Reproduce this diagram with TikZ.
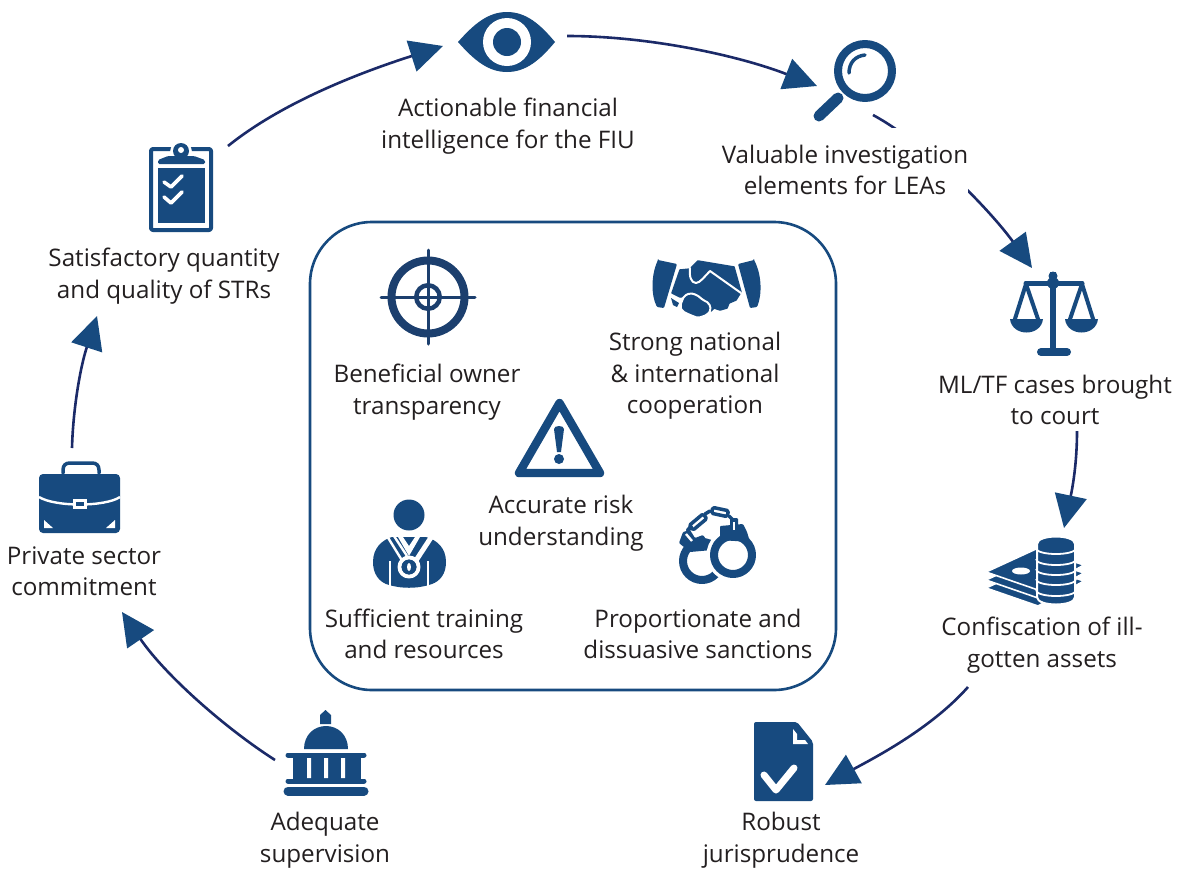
\documentclass[tikz,border=0pt]{standalone}
\usepackage{fontspec}
\setmainfont{Open Sans}
\usetikzlibrary{arrows.meta}
\definecolor{iconblue}{HTML}{174A7F}
\definecolor{linenavy}{HTML}{1B2A68}
\definecolor{targetblue}{HTML}{1C3F6E}
\definecolor{textdark}{HTML}{231F20}
\tikzset{
  x=1pt,y=-1pt,
  label text/.style={align=center,text=textdark,inner sep=0pt,font=\fontsize{24.2}{31.5}\selectfont},
  flow/.style={draw=linenavy,line width=2.6pt,-{Triangle[length=33pt,width=32pt,fill=iconblue,color=iconblue]}},
  icon/.style={fill=iconblue},
  iconline/.style={draw=iconblue,line cap=round,line join=round},
  cut/.style={fill=white},
  cutline/.style={draw=white,line cap=round,line join=round},
}
\begin{document}
\begin{tikzpicture}
\useasboundingbox (0,0) rectangle (1178,868);
\fill[white] (0,0) rectangle (1178,868);
% connector ends
\coordinate (strOut) at (228,146);
\coordinate (eyeIn) at (443,46);
\coordinate (eyeOut) at (567,36);
\coordinate (lensIn) at (817,86);
\coordinate (lensOut) at (873,115);
\coordinate (scaleIn) at (1032,268);
\coordinate (courtOut) at (1077,431);
\coordinate (coinIn) at (1064,528);
\coordinate (assetOut) at (968,687);
\coordinate (docIn) at (825,785);
\coordinate (superOut) at (275,760);
\coordinate (caseIn) at (122,612);
\coordinate (caseOut) at (72,448);
\coordinate (strIn) at (97,316);
% connectors
\draw[flow] (strOut) .. controls (285,100) and (368,70) .. (eyeIn);
\draw[flow] (eyeOut) .. controls (650,36) and (740,56) .. (lensIn);
\draw[flow] (lensOut) .. controls (925,143) and (990,210) .. (scaleIn);
\draw[flow] (courtOut) .. controls (1077,465) and (1072,490) .. (coinIn);
\draw[flow] (assetOut) .. controls (930,730) and (870,760) .. (docIn);
\draw[flow] (superOut) .. controls (225,728) and (165,675) .. (caseIn);
\draw[flow] (caseOut) .. controls (73,410) and (80,368) .. (strIn);
% central frame
\node[draw=iconblue,line width=2.6pt,rounded corners=62pt,minimum width=526pt,minimum height=468pt,inner sep=0pt] (frame) at (573,456) {};
% eye
\fill[icon] (458,42) .. controls (474,24) and (488,12) .. (507,12) .. controls (526,12) and (540,24) .. (555,42) .. controls (540,60) and (526,72) .. (507,72) .. controls (488,72) and (474,60) .. (458,42) -- cycle;
\fill[cut] (507,42) circle[radius=24];
\fill[icon] (507,42) circle[radius=14];
% lens
\draw[iconline,line width=8pt] (865,71) circle[radius=27];
\draw[iconline,line width=3.5pt] (849,73) .. controls (849,63) and (855,56) .. (865,55);
\draw[iconline,line width=11pt] (838,98) -- (819,116);
% scales
\fill[icon] (1053,276) circle[radius=4.5];
\fill[icon] (1053,283) circle[radius=6];
\draw[iconline,line width=5pt] (1026,283) -- (1082,283);
\draw[iconline,line width=5.5pt,line cap=butt] (1053,272) -- (1053,350);
\draw[iconline,line width=8pt] (1041,352) -- (1067,352);
\draw[iconline,line width=4pt] (1014,322) -- (1026,284) -- (1039,322);
\draw[iconline,line width=4pt] (1069,322) -- (1082,284) -- (1094,322);
\fill[icon] (1010,319) .. controls (1012,337) and (1041,337) .. (1043,319) -- cycle;
\fill[icon] (1065,319) .. controls (1067,337) and (1096,337) .. (1098,319) -- cycle;
% money
\foreach \o in {16,8,0}{
  \filldraw[icon,draw=white,line width=1.6pt,line join=round] (986,572+\o) -- (1036,549+\o) -- (1084,565+\o) -- (1038,590+\o) -- cycle;
}
\fill[cut] (1021,571) ellipse[x radius=9,y radius=3.5];
\filldraw[icon,draw=white,line width=2pt] (1037,544) .. controls (1037,534) and (1075,534) .. (1075,544) -- (1075,597) .. controls (1075,607) and (1037,607) .. (1037,597) -- cycle;
\foreach \y in {548,559,569,579,590}{
  \draw[draw=white,line width=1.8pt] (1036,\y) .. controls (1036,\y+8) and (1076,\y+8) .. (1076,\y);
}
% document
\fill[icon,rounded corners=2pt] (754,722) -- (797,722) -- (813,742) -- (813,801) -- (754,801) -- cycle;
\fill[cut] (793,729) -- (793,744) -- (808,744) -- (805,740) -- (797,740) -- (797,734) -- cycle;
\draw[cutline,line width=7pt] (764,775) -- (776,790) -- (794,768);
% building
\fill[icon] (320,724) -- (320,715) -- (325.5,710) -- (331,715) -- (331,724) -- cycle;
\fill[icon] (304,749) .. controls (304,735) and (314,726) .. (326,726) .. controls (338,726) and (348,735) .. (348,749) -- cycle;
\draw[iconline,line width=5pt] (288,755) -- (364,755);
\fill[icon] (293,757) rectangle (361,779);
\fill[cut] (307,758) rectangle (311,778) (324,758) rectangle (328,778) (341,758) rectangle (345,778);
\draw[iconline,line width=5pt] (288,781) -- (364,781);
\draw[iconline,line width=9pt] (288,791) -- (364,791);
% briefcase
\draw[iconline,line width=3.5pt] (63,473) -- (63,470) .. controls (63,465) and (66,463) .. (70,463) -- (92,463) .. controls (96,463) and (99,465) .. (99,470) -- (99,473);
\fill[icon,rounded corners=4pt] (39,474) rectangle (120,533);
\draw[cutline,line width=2.4pt,line cap=butt] (39,497) .. controls (55,507) and (105,507) .. (120,497);
\fill[cut] (73,499) rectangle (87,509);
\fill[icon] (76,502) rectangle (84,506);
\fill[cut] (44,528) -- (53,528) -- (44,520) -- cycle;
\fill[cut] (115,528) -- (106,528) -- (115,520) -- cycle;
% clipboard
\draw[iconline,line width=4pt,rounded corners=2pt] (151,149) rectangle (211,230);
\filldraw[cut,draw=white,line width=3pt,line join=round] (157,165) -- (157,159) -- (168,154) -- (194,154) -- (206,159) -- (206,165) -- cycle;
\filldraw[fill=white,draw=white] (181,151) circle[radius=10.5];
\fill[icon,rounded corners=1.5pt] (158,164) -- (158,160) -- (168,156) -- (194,156) -- (205,160) -- (205,164) -- cycle;
\fill[icon] (181,151) circle[radius=8];
\fill[cut] (181,150) circle[radius=3];
\fill[icon] (158,168) rectangle (205,223);
\draw[cutline,line width=3.6pt] (164,182) -- (171,187) -- (182,176);
\draw[cutline,line width=3.6pt] (164,197) -- (171,203) -- (182,192);
% target
\draw[draw=targetblue,line width=8pt] (428,297) circle[radius=36.5];
\draw[draw=targetblue,line width=4.5pt] (428,297) circle[radius=11.75];
\draw[draw=targetblue,line width=3pt,line cap=round] (381,297) -- (475,297) (428,250) -- (428,344);
% handshake
\fill[icon,rounded corners=1pt] (658,260) -- (677,264) -- (664,308) -- (657,307) .. controls (651,295) and (651,275) .. (658,260) -- cycle;
\fill[icon,rounded corners=1pt] (754,260) -- (738,264) -- (750,308) -- (757,307) .. controls (762,295) and (762,275) .. (754,260) -- cycle;
\filldraw[icon,draw=iconblue,line width=1.5pt,line join=round] (680,270) -- (690,269) -- (698,261) -- (734,267) -- (741,292) -- (736,300) -- (729,303) -- (727,308) -- (720,310) -- (714,308) -- (711,311) -- (700,304) -- (690,296) -- (680,297) -- (672,293) -- cycle;
\draw[cutline,line width=2pt] (690,268) .. controls (689,276) and (691,283) .. (696,283) .. controls (700,283) and (705,276) .. (710,271) -- (741,293);
\fill[icon] (671,298) -- (679,303) -- (677,307) -- (673,305) -- cycle;
\filldraw[icon,draw=white,line width=2pt,line join=round,rounded corners=2pt] (680,306) -- (684,296) -- (690,293) -- (697,295) -- (703,300) -- (709,303) -- (711,310) -- (707,315) -- (698,318) -- (690,315) -- (682,311) -- cycle;
% warning
\draw[iconline,line width=8.4pt] (559.5,403) -- (519,473) -- (600,473) -- cycle;
\fill[icon] (554,429) .. controls (554,425) and (564,425) .. (564,429) -- (561,452) -- (557,452) -- cycle;
\fill[icon] (559,459) circle[radius=5];
% person
\fill[icon] (409,515) circle[radius=15.5];
\fill[icon] (373,562) .. controls (373,548) and (382,540) .. (392,537) -- (426,537) .. controls (437,540) and (446,548) .. (446,562) .. controls (446,574) and (440,581) .. (432,584) .. controls (418,589) and (400,589) .. (386,584) .. controls (379,581) and (373,574) .. (373,562) -- cycle;
\draw[cutline,line width=2.4pt,line cap=butt] (387,536) -- (403,562) (394,536) -- (407,556);
\draw[cutline,line width=5pt,line cap=butt] (432,536) -- (415,562);
\fill[cut] (398,537) -- (403,537) -- (409,546) -- (415,537) -- (420,537) -- (409,556) -- cycle;
\draw[cutline,line width=2.2pt,line cap=butt] (390,561) -- (390,586) (428,561) -- (428,586);
\draw[cutline,line width=4pt] (409,567) circle[radius=9.5];
\fill[icon] (409,567) circle[radius=7.5];
\fill[cut] (409,567) ellipse[x radius=2,y radius=4];
% handcuffs
\draw[iconline,line width=8pt,line cap=butt] (702,561) circle[radius=19];
\fill[icon,rounded corners=1pt] (679,543) -- (683,532) -- (690,530) -- (695,538) -- (703,535) -- (708,542) -- (712,550) -- (690,552) -- cycle;
\draw[cutline,line width=2.4pt,line cap=butt] (686,534) -- (692,541);
\fill[cut] (733,555) circle[radius=26.5];
\draw[iconline,line width=8pt] (733,555) circle[radius=19];
\fill[icon,rounded corners=1pt] (720,540) -- (720,526) -- (743,524) -- (747,532) -- (750,542) -- cycle;
\fill[icon,rounded corners=1pt] (730,518) rectangle (738,532);
\draw[cutline,line width=2.4pt,line cap=butt] (734,522) -- (734,530);
\draw[iconline,line width=3.5pt,fill=white,rounded corners=1.5pt,rotate around={40:(698,522)}] (689,519) rectangle (707,525);
\draw[iconline,line width=3.5pt,fill=white,rounded corners=1.5pt,rotate around={-12:(720,512)}] (712,509) rectangle (728,515);
\draw[iconline,line width=4pt] (688,530) -- (691,527);
\draw[iconline,line width=3.5pt] (705,514) -- (710,511);
\draw[iconline,line width=3.5pt] (729,516) -- (733,520);
% labels
\node[label text] (l1) at (508,126) {Actionable financial\\intelligence for the FIU};
\node[label text,fill=white,minimum width=246pt,minimum height=84pt] (l2) at (845,170) {Valuable investigation\\elements for LEAs};
\node[label text] (l3) at (1055,400) {ML/TF cases brought\\to court};
\node[label text] (l4) at (1042,645) {Confiscation of ill-\\gotten assets};
\node[label text] (l5) at (781,840) {Robust\\jurisprudence};
\node[label text] (l6) at (325,840) {Adequate\\supervision};
\node[label text] (l7) at (84,571) {Private sector\\commitment};
\node[label text] (l8) at (164,276) {Satisfactory quantity\\and quality of STRs};
\node[label text] (l9) at (427,392) {Beneficial owner\\transparency};
\node[label text] (l10) at (695,376) {Strong national\\\& international\\cooperation};
\node[label text] (l11) at (561,523) {Accurate risk\\understanding};
\node[label text] (l12) at (424,634) {Sufficient training\\and resources};
\node[label text] (l13) at (698,634) {Proportionate and\\dissuasive sanctions};
\end{tikzpicture}
\end{document}
